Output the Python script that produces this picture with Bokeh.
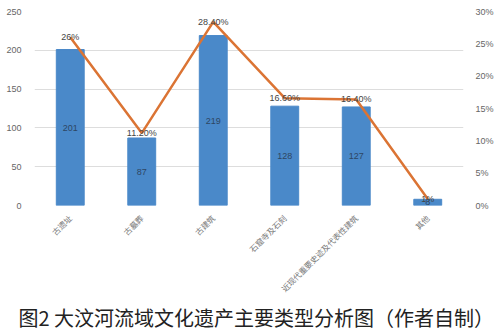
import math
from bokeh.plotting import figure
from bokeh.models import (ColumnDataSource, Range1d, LinearAxis, NumeralTickFormatter,
                          FixedTicker, Title, LabelSet)
from bokeh.core.properties import value
from bokeh.embed import file_html
from bokeh.resources import INLINE

categories = ["古遗址", "古墓葬", "古建筑", "石窟寺及石刻", "近现代重要史迹及代表性建筑", "其他"]
counts = [201, 87, 219, 128, 127, 8]
shares = [0.26, 0.112, 0.284, 0.166, 0.164, 0.01]
share_labels = ["26%", "11.20%", "28.40%", "16.60%", "16.40%", "1%"]
left_ticks = [0, 50, 100, 150, 200, 250]
right_ticks = [0, 0.05, 0.10, 0.15, 0.20, 0.25, 0.30]

src = ColumnDataSource(dict(
    cat=categories, count=counts, half=[c / 2 for c in counts],
    share=shares, slab=share_labels, clab=[str(c) for c in counts]))

NUM_FONT = "Liberation Sans"
CJK = "Noto Sans CJK SC"

p = figure(frame_width=429, frame_height=194, x_range=categories, y_range=Range1d(0, 250),
           output_backend="svg", toolbar_location=None,
           min_border_left=34, min_border_right=37, min_border_top=11, min_border_bottom=0)
p.outline_line_color = None
p.background_fill_color = "white"
p.border_fill_color = "white"

p.extra_y_ranges = {"pct": Range1d(0, 0.30)}

p.vbar(x="cat", top="count", width=0.39, color="#4A89C9", source=src)
p.line(x="cat", y="share", y_range_name="pct", line_color="#DB7434", line_width=2.5, source=src)

p.add_layout(LabelSet(x="cat", y="half", text="clab", source=src, text_align="center",
                      text_baseline="middle", text_font_size="9px", text_color="#2E4663",
                      text_font=value(NUM_FONT)))
p.add_layout(LabelSet(x="cat", y="share", y_range_name="pct", text="slab", source=src,
                      text_align="center", text_baseline="middle", text_font_size="9px",
                      text_color="#444444", text_font=value(NUM_FONT)))

# left axis
ya = p.yaxis[0]
ya.ticker = FixedTicker(ticks=left_ticks)
ya.axis_line_color = None
ya.major_tick_line_color = None
ya.minor_tick_line_color = None
ya.major_label_text_color = "#666666"
ya.major_label_text_font_size = "9px"
ya.major_label_text_font = NUM_FONT
ya.major_label_standoff = 7

ra = LinearAxis(y_range_name="pct", ticker=FixedTicker(ticks=right_ticks),
                formatter=NumeralTickFormatter(format="0%"))
ra.axis_line_color = None
ra.major_tick_line_color = None
ra.minor_tick_line_color = None
ra.major_label_text_color = "#666666"
ra.major_label_text_font_size = "9px"
ra.major_label_text_font = NUM_FONT
ra.major_label_standoff = 6
p.add_layout(ra, "right")

xa = p.xaxis[0]
xa.axis_line_color = None
xa.major_tick_line_color = None
xa.minor_tick_line_color = None
xa.major_label_orientation = math.pi / 4
xa.major_label_text_color = "#777777"
xa.major_label_text_font_size = "8px"
xa.major_label_text_font = CJK
xa.major_label_standoff = 5

p.xgrid.grid_line_color = None
p.ygrid.ticker = FixedTicker(ticks=left_ticks)
p.ygrid.grid_line_color = "#DDDDDD"
p.ygrid.grid_line_width = 1

t = Title(text="图2 大汶河流域文化遗产主要类型分析图（作者自制）", align="left", offset=-16,
          text_font=CJK, text_font_size="20px", text_font_style="normal",
          text_color="#222222", standoff=0)
p.add_layout(t, "below")

open("out.html", "w").write(file_html(p, INLINE))
